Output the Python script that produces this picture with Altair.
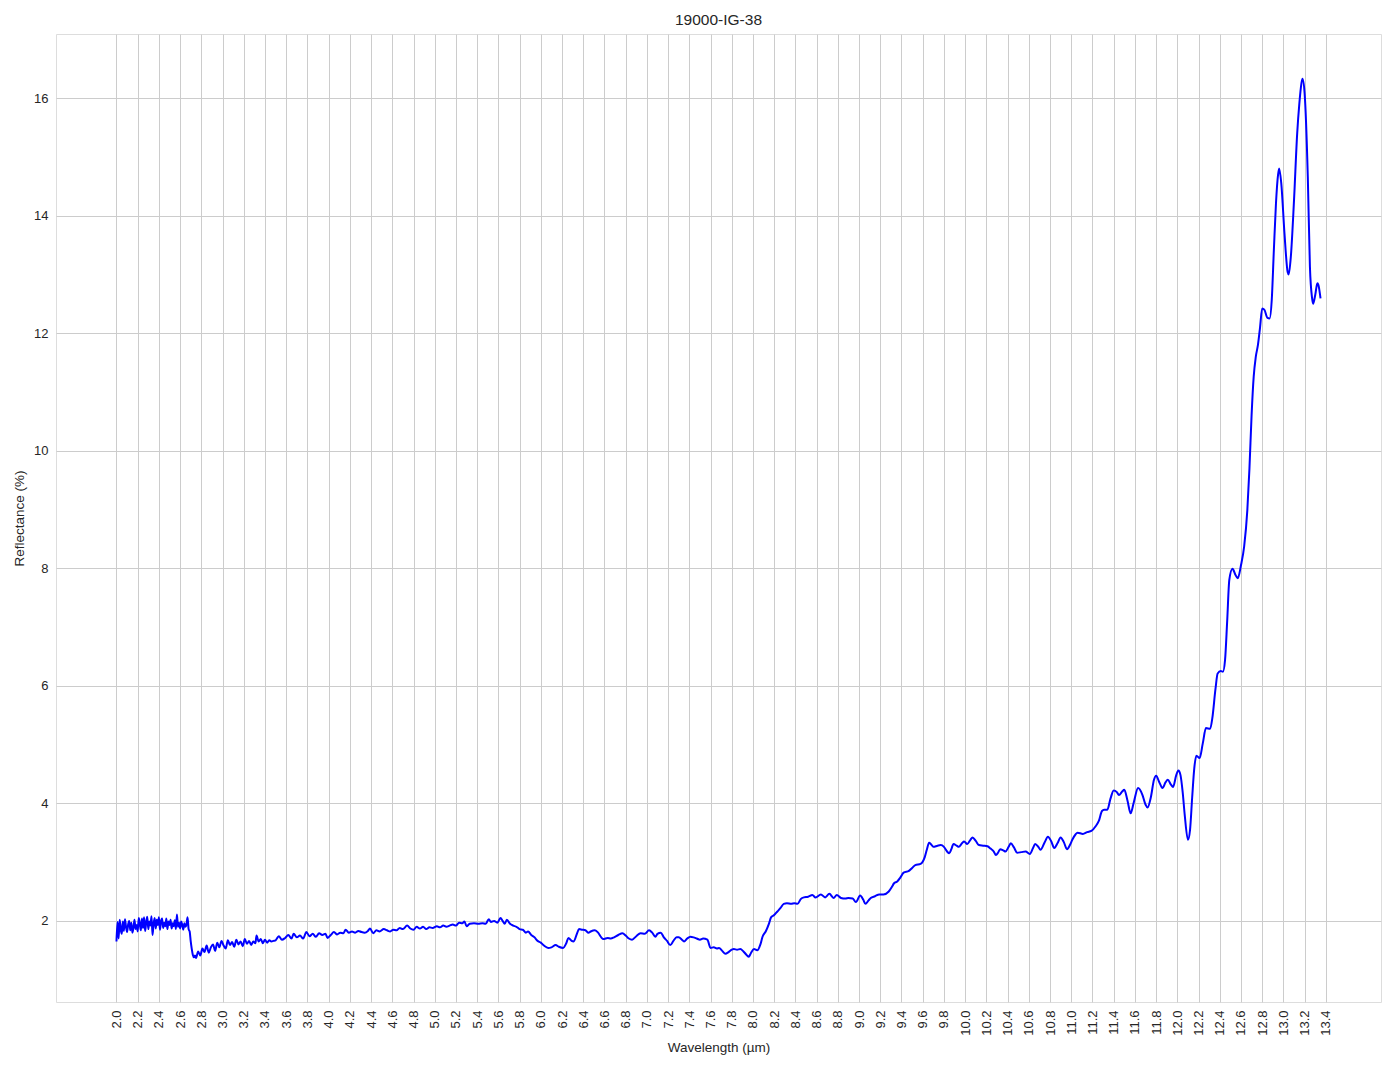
import altair as alt
import pandas as pd

TITLE = "19000-IG-38"
X_TITLE = "Wavelength (µm)"
Y_TITLE = "Reflectance (%)"

x_ticks = [round(2.0 + 0.2 * i, 1) for i in range(58)]
y_ticks = [2, 4, 6, 8, 10, 12, 14, 16]

# noisy start, 2.00-2.70
wl_a = [2.00, 2.01, 2.02, 2.03, 2.04, 2.05, 2.06, 2.07, 2.08, 2.09,
        2.10, 2.11, 2.12, 2.13, 2.14, 2.15, 2.16, 2.17, 2.18, 2.19,
        2.20, 2.21, 2.22, 2.23, 2.24, 2.25, 2.26, 2.27, 2.28, 2.29,
        2.30, 2.31, 2.32, 2.33, 2.34, 2.35, 2.36, 2.37, 2.38, 2.39,
        2.40, 2.41, 2.42, 2.43, 2.44, 2.45, 2.46, 2.47, 2.48, 2.49,
        2.50, 2.51, 2.52, 2.53, 2.54, 2.55, 2.56, 2.57, 2.58, 2.59,
        2.60, 2.61, 2.62, 2.63, 2.64, 2.65, 2.66, 2.67, 2.68, 2.69, 2.70]
rf_a = [1.65, 1.98, 1.70, 2.02, 1.85, 1.78, 1.99, 1.83, 2.03, 1.90,
        1.81, 1.94, 2.00, 1.84, 1.97, 1.80, 1.88, 2.02, 1.86, 1.93,
        1.82, 2.05, 1.95, 1.84, 2.04, 1.88, 2.06, 1.83, 1.97, 2.07,
        1.86, 1.99, 1.92, 2.08, 1.76, 1.95, 2.05, 1.87, 2.02, 1.93,
        2.06, 1.85, 1.99, 2.04, 1.88, 1.97, 1.91, 2.04, 1.86, 1.99,
        1.93, 2.02, 1.87, 1.96, 1.91, 2.01, 1.86, 2.11, 1.90, 1.97,
        1.87, 1.99, 1.93, 1.85, 1.96, 1.90, 1.94, 2.06, 1.86, 1.82, 1.65]

wl_b = [2.71, 2.72, 2.73, 2.74, 2.75, 2.77, 2.79, 2.81, 2.83, 2.85, 2.87, 2.89,
        2.91, 2.93, 2.95, 2.97, 2.99, 3.01, 3.03, 3.05, 3.07, 3.09, 3.11, 3.13,
        3.15, 3.17, 3.19, 3.21, 3.23, 3.25, 3.27, 3.29, 3.31, 3.32, 3.34, 3.36,
        3.38, 3.40, 3.42, 3.44, 3.46, 3.48, 3.50]
rf_b = [1.52, 1.42, 1.38, 1.41, 1.37, 1.48, 1.41, 1.53, 1.47, 1.58, 1.46, 1.55,
        1.60, 1.49, 1.63, 1.55, 1.66, 1.58, 1.53, 1.67, 1.59, 1.64, 1.56, 1.68,
        1.60, 1.65, 1.57, 1.69, 1.61, 1.66, 1.59, 1.65, 1.62, 1.75, 1.65, 1.69,
        1.62, 1.68, 1.63, 1.67, 1.65, 1.66, 1.67]

wl_c = [3.53, 3.56, 3.59, 3.62, 3.65, 3.67, 3.70, 3.73, 3.76, 3.79, 3.82, 3.85,
        3.88, 3.91, 3.94, 3.97, 3.99, 4.02, 4.05, 4.08, 4.11, 4.14, 4.16, 4.19,
        4.22, 4.25, 4.28, 4.31, 4.34, 4.37, 4.39, 4.42, 4.45, 4.48, 4.52, 4.55,
        4.58, 4.61, 4.64, 4.67, 4.70, 4.74, 4.77, 4.80, 4.83, 4.86, 4.89, 4.92,
        4.95, 4.98, 5.02, 5.05, 5.08, 5.11, 5.14, 5.17, 5.20, 5.23, 5.26, 5.28,
        5.30, 5.33, 5.37, 5.41, 5.45, 5.48, 5.51, 5.53, 5.56, 5.59, 5.62, 5.64,
        5.66, 5.68, 5.71, 5.74, 5.77, 5.80, 5.83, 5.86, 5.88, 5.91, 5.94, 5.97, 6.00]
rf_c = [1.74, 1.68, 1.71, 1.76, 1.70, 1.78, 1.72, 1.75, 1.70, 1.81, 1.74, 1.78,
        1.73, 1.79, 1.76, 1.78, 1.71, 1.76, 1.81, 1.77, 1.80, 1.79, 1.85, 1.80,
        1.82, 1.80, 1.83, 1.81, 1.80, 1.83, 1.87, 1.79, 1.84, 1.82, 1.86, 1.84,
        1.82, 1.85, 1.84, 1.88, 1.86, 1.92, 1.87, 1.85, 1.90, 1.87, 1.90, 1.86,
        1.89, 1.88, 1.91, 1.89, 1.92, 1.90, 1.92, 1.94, 1.92, 1.97, 1.96, 1.99,
        1.91, 1.95, 1.96, 1.95, 1.96, 1.95, 2.03, 1.98, 2.00, 1.97, 2.05, 2.00,
        1.95, 2.02, 1.95, 1.92, 1.90, 1.86, 1.85, 1.80, 1.82, 1.76, 1.72, 1.66, 1.63]

wl_d = [6.03, 6.07, 6.10, 6.14, 6.17, 6.21, 6.24, 6.26, 6.29, 6.31, 6.34, 6.36,
        6.39, 6.42, 6.45, 6.47, 6.51, 6.54, 6.57, 6.59, 6.63, 6.66, 6.69, 6.73,
        6.77, 6.80, 6.83, 6.86, 6.90, 6.94, 6.98, 7.02, 7.05, 7.08, 7.10, 7.13,
        7.16, 7.19, 7.22, 7.25, 7.28, 7.30, 7.33, 7.35, 7.38, 7.41, 7.44, 7.47,
        7.50, 7.53, 7.57, 7.60, 7.63, 7.66, 7.68, 7.71, 7.74, 7.77, 7.80, 7.82,
        7.85, 7.88, 7.91, 7.93, 7.96, 7.98, 8.01, 8.04, 8.07, 8.09, 8.12, 8.15,
        8.17, 8.20, 8.23, 8.26, 8.29, 8.32, 8.36, 8.39, 8.42, 8.45]
rf_d = [1.58, 1.54, 1.55, 1.59, 1.56, 1.54, 1.62, 1.71, 1.66, 1.65, 1.78, 1.86,
        1.85, 1.84, 1.80, 1.82, 1.84, 1.80, 1.72, 1.69, 1.71, 1.70, 1.72, 1.76,
        1.79, 1.75, 1.70, 1.68, 1.74, 1.79, 1.78, 1.84, 1.80, 1.73, 1.78, 1.80,
        1.72, 1.66, 1.59, 1.66, 1.72, 1.72, 1.68, 1.65, 1.70, 1.73, 1.72, 1.70,
        1.68, 1.70, 1.68, 1.54, 1.55, 1.53, 1.54, 1.49, 1.44, 1.47, 1.51, 1.52,
        1.51, 1.52, 1.48, 1.44, 1.39, 1.45, 1.52, 1.50, 1.60, 1.73, 1.82, 1.95,
        2.06, 2.10, 2.16, 2.22, 2.29, 2.30, 2.29, 2.30, 2.29, 2.37]

wl_e = [8.48, 8.52, 8.56, 8.59, 8.64, 8.68, 8.72, 8.76, 8.79, 8.83, 8.87, 8.90,
        8.94, 8.97, 9.01, 9.04, 9.06, 9.09, 9.11, 9.15, 9.19, 9.23, 9.28, 9.31,
        9.33, 9.36, 9.39, 9.42, 9.47, 9.50, 9.53, 9.58, 9.62, 9.64, 9.66, 9.68,
        9.70, 9.74, 9.77, 9.80, 9.83, 9.85, 9.87, 9.89, 9.92, 9.94, 9.97, 9.99,
        10.02, 10.05, 10.07, 10.10, 10.13, 10.17, 10.21, 10.24, 10.27, 10.29,
        10.31, 10.33, 10.36, 10.38, 10.41, 10.43, 10.46, 10.49, 10.53, 10.57,
        10.61, 10.64, 10.66, 10.69, 10.71, 10.75, 10.78, 10.81, 10.84, 10.87,
        10.90, 10.93, 10.96, 10.99, 11.01, 11.04, 11.06, 11.11, 11.15, 11.19,
        11.23, 11.26, 11.29, 11.31, 11.34, 11.37, 11.40, 11.43, 11.45, 11.48,
        11.50, 11.53, 11.56, 11.59, 11.63, 11.67, 11.70, 11.72, 11.75, 11.78,
        11.80, 11.83, 11.86, 11.89, 11.91, 11.94, 11.96, 11.99, 12.01, 12.03,
        12.05, 12.07, 12.10, 12.12, 12.14, 12.16, 12.18, 12.21, 12.24, 12.27,
        12.31, 12.33, 12.36, 12.38, 12.41, 12.43, 12.45, 12.47, 12.49, 12.52,
        12.55, 12.57, 12.60, 12.63, 12.66, 12.68, 12.70, 12.72, 12.74, 12.76,
        12.78, 12.80, 12.82, 12.85, 12.87, 12.89, 12.91, 12.93, 12.95, 12.96,
        12.98, 13.01, 13.04, 13.05, 13.07, 13.10, 13.13, 13.15, 13.17, 13.18,
        13.20, 13.23, 13.25, 13.27, 13.28, 13.30, 13.32, 13.33, 13.35]
rf_e = [2.40, 2.41, 2.44, 2.40, 2.45, 2.40, 2.46, 2.39, 2.44, 2.39, 2.38, 2.39,
        2.38, 2.32, 2.43, 2.36, 2.29, 2.35, 2.39, 2.42, 2.45, 2.45, 2.50, 2.58,
        2.64, 2.67, 2.74, 2.82, 2.85, 2.90, 2.95, 2.97, 3.09, 3.22, 3.33, 3.30,
        3.26, 3.28, 3.29, 3.26, 3.18, 3.15, 3.22, 3.31, 3.28, 3.26, 3.32, 3.35,
        3.31, 3.38, 3.42, 3.36, 3.29, 3.28, 3.27, 3.23, 3.18, 3.12,
        3.16, 3.22, 3.20, 3.18, 3.26, 3.32, 3.25, 3.16, 3.17, 3.18,
        3.14, 3.24, 3.31, 3.26, 3.21, 3.34, 3.43, 3.36, 3.24, 3.32,
        3.42, 3.34, 3.22, 3.30, 3.38, 3.47, 3.50, 3.48, 3.51, 3.53,
        3.61, 3.70, 3.87, 3.89, 3.89, 4.08, 4.22, 4.19, 4.14, 4.20,
        4.23, 4.05, 3.83, 4.02, 4.26, 4.15, 3.98, 3.93, 4.10, 4.40,
        4.47, 4.36, 4.26, 4.36, 4.40, 4.32, 4.28, 4.48, 4.56, 4.48,
        4.20, 3.80, 3.38, 3.55, 4.10, 4.60, 4.81, 4.77, 5.02, 5.28,
        5.27, 5.45, 5.95, 6.21, 6.25, 6.24, 6.44, 7.10, 7.80, 7.99,
        7.88, 7.83, 8.05, 8.37, 8.99, 9.70, 10.60, 11.26, 11.60, 11.80,
        12.10, 12.42, 12.40, 12.26, 12.25, 12.56, 13.41, 14.21, 14.70, 14.80,
        14.55, 13.70, 13.04, 13.00, 13.30, 14.26, 15.40, 15.90, 16.25, 16.33,
        16.08, 14.66, 13.13, 12.60, 12.50, 12.65, 12.85, 12.82, 12.59]

wavelength = wl_a + wl_b + wl_c + wl_d + wl_e
reflectance = rf_a + rf_b + rf_c + rf_d + rf_e

df = pd.DataFrame({"wl": wavelength, "r": reflectance})

FONT = "Liberation Sans"
GRID = "#cccccc"
TXT = "#262626"

chart = alt.Chart(df).mark_line(color="#0000ff", strokeWidth=2, interpolate="monotone").encode(
    x=alt.X("wl:Q",
            scale=alt.Scale(domain=[1.43, 13.92], nice=False, zero=False),
            axis=alt.Axis(title=X_TITLE, values=x_ticks, format=".1f", labelAngle=270,
                          labelAlign="right", labelBaseline="middle",
                          labelPadding=8, titlePadding=5, tickSize=0,
                          gridColor=GRID, gridWidth=1, domain=False,
                          labelFontSize=13, titleFontSize=13.5, labelColor=TXT,
                          titleColor=TXT, titleFontWeight="normal",
                          labelFont=FONT, titleFont=FONT, labelOverlap=False)),
    y=alt.Y("r:Q",
            scale=alt.Scale(domain=[0.62, 17.09], nice=False, zero=False),
            axis=alt.Axis(title=Y_TITLE, values=y_ticks, format="d",
                          labelPadding=8, titlePadding=7, tickSize=0,
                          gridColor=GRID, gridWidth=1, domain=False,
                          labelFontSize=13, titleFontSize=13.5, labelColor=TXT,
                          titleColor=TXT, titleFontWeight="normal",
                          labelFont=FONT, titleFont=FONT)),
).properties(
    width=1325,
    height=968,
    title=alt.TitleParams(TITLE, fontSize=15.5, font=FONT, fontWeight="normal",
                          color=TXT, anchor="middle", offset=6),
    autosize=alt.AutoSizeParams(type="none"),
    padding={"left": 48, "top": 26, "right": 5, "bottom": 60},
).configure_view(stroke=GRID, strokeWidth=1).configure(background="white")

chart.save("out.html", embed_options={"renderer": "svg", "actions": False})
